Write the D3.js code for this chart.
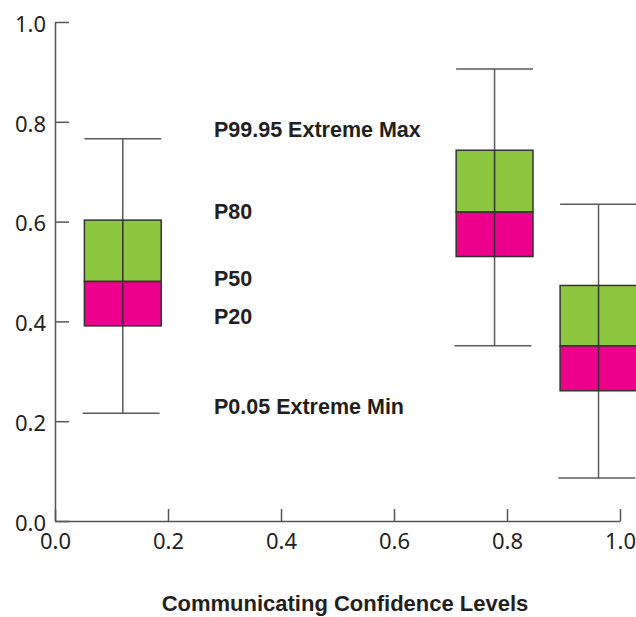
<!DOCTYPE html>
<html>
<head>
<meta charset="UTF-8">
<script src="https://d3js.org/d3.v7.min.js"></script>
<style>
  * { margin: 0; padding: 0; }
  body { background: #fff; width: 636px; height: 617px; overflow: hidden; }
  svg { display: block; }
</style>
</head>
<body>
<svg id="chart"></svg>
<script>
// box positions (x centre) and the five quantiles per box
const centers = [0.12, 0.778, 0.962];
const p0005 = [0.216, 0.351, 0.086];
const p20 = [0.391, 0.530, 0.261];
const p50 = [0.480, 0.619, 0.351];
const p80 = [0.603, 0.743, 0.472];
const p9995 = [0.766, 0.906, 0.635];

const xTicks = [0, 0.2, 0.4, 0.6, 0.8, 1.0];
const yTicks = [0, 0.2, 0.4, 0.6, 0.8, 1.0];

// quantile labels, placed at the first box's values
const labelText = ['P99.95 Extreme Max', 'P80', 'P50', 'P20', 'P0.05 Extreme Min'];
const labelValue = [p9995[0], p80[0], p50[0], p20[0], p0005[0]];

const W = 636, H = 617;
const svg = d3.select('#chart').attr('width', W).attr('height', H);

const x = d3.scaleLinear().domain([0, 1]).range([55, 620]);
const y = d3.scaleLinear().domain([0, 1]).range([521, 22]);
const boxW = 0.136;

const boxes = centers.map((c, i) => ({
  c, lo: p0005[i], q1: p20[i], med: p50[i], q3: p80[i], hi: p9995[i]
}));

const g = svg.append('g');

// whiskers
boxes.forEach(b => {
  const wg = g.append('g').attr('stroke', '#5a5a5a').attr('stroke-width', 1.5);
  wg.append('line').attr('x1', x(b.c)).attr('x2', x(b.c)).attr('y1', y(b.hi)).attr('y2', y(b.lo));
  wg.append('line').attr('x1', x(b.c - boxW / 2)).attr('x2', x(b.c + boxW / 2)).attr('y1', y(b.hi)).attr('y2', y(b.hi));
  wg.append('line').attr('x1', x(b.c - boxW / 2 - 0.003)).attr('x2', x(b.c + boxW / 2 - 0.003)).attr('y1', y(b.lo)).attr('y2', y(b.lo));
});

// boxes: green upper half, magenta lower half
boxes.forEach(b => {
  g.append('rect')
    .attr('x', x(b.c - boxW / 2)).attr('width', x(boxW) - x(0))
    .attr('y', y(b.q3)).attr('height', y(b.med) - y(b.q3))
    .attr('fill', '#8dc63f').attr('stroke', '#333').attr('stroke-width', 1.5);
  g.append('rect')
    .attr('x', x(b.c - boxW / 2)).attr('width', x(boxW) - x(0))
    .attr('y', y(b.med)).attr('height', y(b.q1) - y(b.med))
    .attr('fill', '#ec008c').attr('stroke', '#333').attr('stroke-width', 1.5);
  g.append('line').attr('x1', x(b.c)).attr('x2', x(b.c))
    .attr('y1', y(b.q3)).attr('y2', y(b.q1))
    .attr('stroke', '#333').attr('stroke-width', 1.5);
});

// axes (ticks point inward)
const yAxis = d3.axisRight(y).tickValues(yTicks).tickFormat(d3.format('.1f')).tickSize(14).tickSizeOuter(0);
const xAxis = d3.axisTop(x).tickValues(xTicks).tickFormat(d3.format('.1f')).tickSize(12).tickSizeOuter(0);

const ya = svg.append('g').attr('transform', 'translate(55,0)').call(yAxis);
ya.select('.domain').attr('stroke', '#555').attr('stroke-width', 1.5);
ya.selectAll('.tick line').attr('stroke', '#555').attr('stroke-width', 1.5);
ya.selectAll('.tick text')
  .attr('x', -9).attr('dy', '0.42em').attr('text-anchor', 'end')
  .attr('fill', '#231f20').attr('font-family', '"Noto Sans", sans-serif').attr('font-size', 22);

const xa = svg.append('g').attr('transform', 'translate(0,521)').call(xAxis);
xa.select('.domain').attr('stroke', '#555').attr('stroke-width', 1.5);
xa.selectAll('.tick line').attr('stroke', '#555').attr('stroke-width', 1.5);
xa.selectAll('.tick text')
  .attr('y', 28).attr('dy', 0).attr('text-anchor', 'middle')
  .attr('fill', '#231f20').attr('font-family', '"Noto Sans", sans-serif').attr('font-size', 22);

// quantile labels
const labelDy = [-2, -1, 5, -2, 1];
g.selectAll('text.ql').data(labelText).join('text')
  .attr('class', 'ql')
  .attr('x', 214)
  .attr('y', (d, i) => y(labelValue[i]) + labelDy[i])
  .attr('font-family', '"Liberation Sans", Arial, sans-serif')
  .attr('font-weight', 'bold').attr('font-size', 21.5)
  .attr('fill', '#231f20')
  .text(d => d);

// x axis title
svg.append('text')
  .attr('x', 345).attr('y', 611)
  .attr('text-anchor', 'middle')
  .attr('font-family', '"Liberation Sans", Arial, sans-serif')
  .attr('font-weight', 'bold').attr('font-size', 22)
  .attr('fill', '#231f20')
  .text('Communicating Confidence Levels');
</script>
</body>
</html>
